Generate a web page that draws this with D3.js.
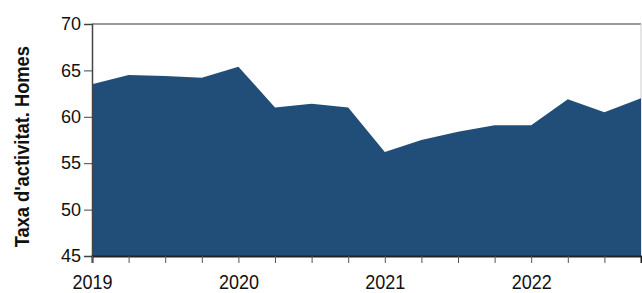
<!DOCTYPE html>
<html>
<head>
<meta charset="utf-8">
<script src="https://cdn.jsdelivr.net/npm/d3@7"></script>
<style>
  body { margin: 0; background: #fff; }
  text { font-family: "Liberation Sans", Arial, sans-serif; }
</style>
</head>
<body>
<div class="chartDiv"></div>
<script>
// quarterly points, 2019 Q1 .. 2022 Q4
var quarters = [2019, 2019.25, 2019.5, 2019.75, 2020, 2020.25, 2020.5, 2020.75,
                2021, 2021.25, 2021.5, 2021.75, 2022, 2022.25, 2022.5, 2022.75];
var taxaHomes = [63.5, 64.5, 64.4, 64.2, 65.4, 61.0, 61.4, 61.0,
                 56.2, 57.5, 58.4, 59.1, 59.1, 61.9, 60.5, 62.0];
var yTicks = [45, 50, 55, 60, 65, 70];
var yearLabels = [2019, 2020, 2021, 2022];

var margin = {top: 24, right: 1, bottom: 37, left: 92},
    width = 642 - margin.left - margin.right,
    height = 293 - margin.top - margin.bottom;

var svg = d3.select('div.chartDiv').append('svg')
  .attr('width', 642).attr('height', 293);

var g = svg.append('g').attr('transform', 'translate(' + margin.left + ',' + margin.top + ')');

var x = d3.scaleLinear().domain([2019, 2022.75]).range([0, width]);
var y = d3.scaleLinear().domain([45, 70]).range([height, 0]);

var data = quarters.map(function(q, i) { return {q: q, v: taxaHomes[i]}; });

// top + right frame
g.append('line').attr('x1', 0).attr('x2', width).attr('y1', 0).attr('y2', 0)
  .attr('stroke', '#999').attr('stroke-width', 2);
g.append('line').attr('x1', width).attr('x2', width).attr('y1', 0).attr('y2', height)
  .attr('stroke', '#ccc').attr('stroke-width', 1);

var area = d3.area()
  .x(function(d) { return x(d.q); })
  .y0(y(45))
  .y1(function(d) { return y(d.v); });

g.append('path').datum(data).attr('d', area).attr('fill', '#204e78');

// y axis
var yAxis = d3.axisLeft(y).tickValues(yTicks).tickSize(8).tickPadding(3);
var ya = g.append('g').call(yAxis);
ya.select('.domain').attr('stroke', '#444').attr('stroke-width', 1.5);
ya.selectAll('.tick line').attr('stroke', '#444');
ya.selectAll('text').attr('font-size', 18).attr('fill', '#111');

// x axis
var xAxis = d3.axisBottom(x).tickValues(quarters.slice(0, 15)).tickSize(7)
  .tickFormat(function(d) { return yearLabels.indexOf(d) >= 0 ? d : ''; });
var xa = g.append('g').attr('transform', 'translate(0,' + height + ')').call(xAxis);
xa.select('.domain').attr('stroke', '#222').attr('stroke-width', 2);
xa.selectAll('.tick line').attr('stroke', '#555');
xa.selectAll('text').attr('font-size', 18).attr('fill', '#111')
  .attr('y', 0).attr('dy', 0)
  .attr('transform', 'translate(0,32.5) scale(1,1.08)');

// y title
svg.append('text')
  .attr('transform', 'translate(28.5,146.7) rotate(-90) scale(1,1.15)')
  .attr('text-anchor', 'middle')
  .attr('font-size', 18.3).attr('font-weight', 'bold').attr('fill', '#111')
  .text("Taxa d'activitat. Homes");
</script>
</body>
</html>
